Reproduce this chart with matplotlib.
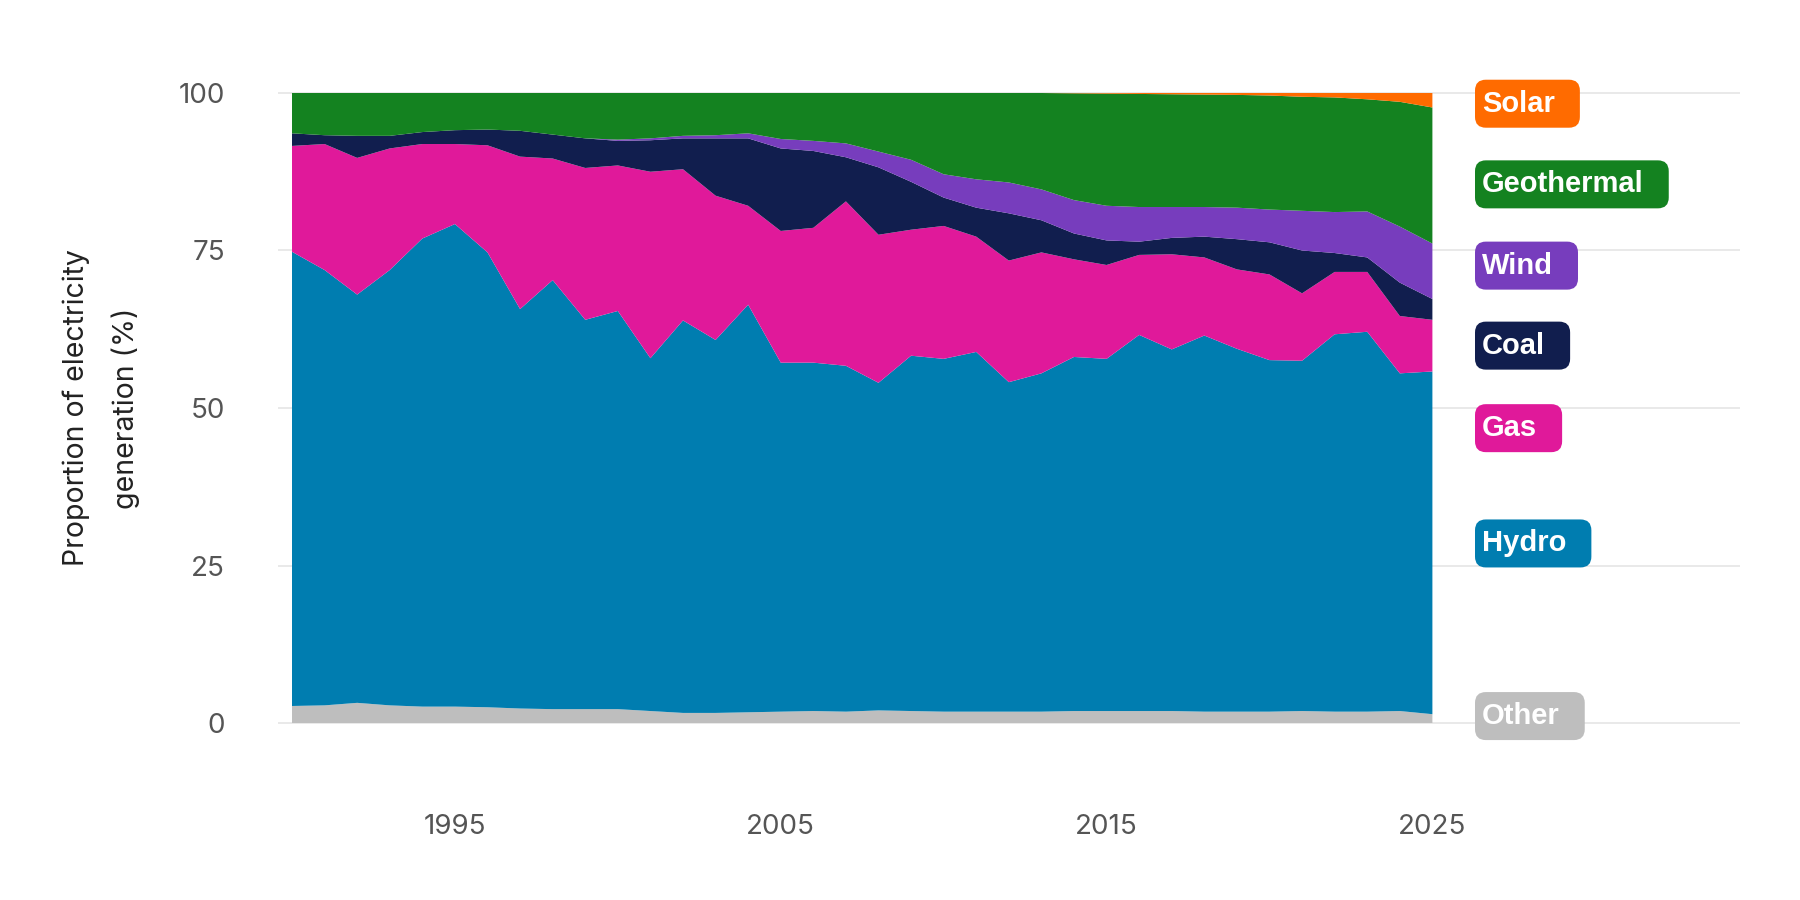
import matplotlib
matplotlib.use("Agg")
import matplotlib.pyplot as plt
from matplotlib.patches import FancyBboxPatch
import numpy as np

years = list(range(1990, 2026))

other = [2.7, 2.8, 3.2, 2.8, 2.6, 2.6, 2.5, 2.3, 2.2, 2.2, 2.2, 1.9, 1.6, 1.6, 1.7, 1.8, 1.9, 1.8,
         2.0, 1.9, 1.8, 1.8, 1.8, 1.8, 1.9, 1.9, 1.9, 1.9, 1.8, 1.8, 1.8, 1.9, 1.8, 1.8, 1.9, 1.4]
hydro = [72.1, 69.1, 64.8, 69.1, 74.3, 76.6, 72.2, 63.4, 68.1, 61.8, 63.2, 56.0, 62.3, 59.2, 64.7,
         55.4, 55.3, 54.9, 52.0, 56.4, 56.0, 57.1, 52.3, 53.7, 56.2, 55.9, 59.7, 57.4, 59.7, 57.6,
         55.8, 55.6, 59.9, 60.3, 53.6, 54.4]
gas = [16.8, 20.0, 21.7, 19.3, 15.0, 12.7, 17.0, 24.2, 19.3, 24.1, 23.1, 29.6, 24.0, 22.9, 15.7,
       20.9, 21.4, 26.1, 23.5, 20.0, 21.1, 18.3, 19.3, 19.2, 15.5, 14.9, 12.7, 15.1, 12.4, 12.6,
       13.6, 10.7, 9.9, 9.5, 9.1, 8.2]
coal = [2.0, 1.4, 3.5, 2.0, 1.9, 2.2, 2.5, 4.1, 3.8, 4.7, 3.9, 5.0, 4.9, 9.1, 10.7, 13.1, 12.2,
        7.0, 10.7, 7.6, 4.5, 4.6, 7.5, 5.1, 4.1, 3.9, 2.1, 2.6, 3.3, 4.8, 5.1, 6.8, 3.0, 2.3, 5.3, 3.3]
wind = [0, 0, 0, 0, 0, 0, 0, 0, 0, 0, 0.2, 0.3, 0.4, 0.5, 0.8, 1.5, 1.6, 2.2, 2.5, 3.5, 3.7, 4.5,
        4.9, 4.9, 5.3, 5.5, 5.5, 4.9, 4.7, 5.0, 5.2, 6.3, 6.5, 7.3, 8.9, 8.8]
geothermal = [6.4, 6.7, 6.8, 6.8, 6.2, 5.9, 5.8, 6.0, 6.6, 7.2, 7.4, 7.2, 6.8, 6.7, 6.4, 7.3, 7.6,
              8.0, 9.3, 10.6, 12.9, 13.7, 14.2, 15.3, 16.95, 17.8, 17.95, 17.9, 17.85, 17.9, 18.1,
              18.1, 18.2, 17.8, 19.8, 21.6]
solar = [0] * 24 + [0.05, 0.1, 0.15, 0.2, 0.25, 0.3, 0.4, 0.6, 0.7, 1.0, 1.4, 2.3]

series_names = ["Other", "Hydro", "Gas", "Coal", "Wind", "Geothermal", "Solar"]
series_values = [other, hydro, gas, coal, wind, geothermal, solar]
colors = ["#bebebe", "#007db0", "#e0199a", "#111e4e", "#773dbd", "#148220", "#ff6b00"]

y_ticks = [0, 25, 50, 75, 100]
x_ticks = [1995, 2005, 2015, 2025]

# label placement (style/layout)
label_y = {"Solar": 98.3, "Geothermal": 85.5, "Wind": 72.6, "Coal": 59.9,
           "Gas": 46.8, "Hydro": 28.5, "Other": 1.1}

W, H = 1800, 900
fig = plt.figure(figsize=(18, 9), dpi=100)
ax_left, ax_right = 278, 1740
ax_bottom_px, ax_top_px = 786, 61.5
ax = fig.add_axes([ax_left / W, 1 - ax_bottom_px / H,
                   (ax_right - ax_left) / W, (ax_bottom_px - ax_top_px) / H])

px_per_year = (1432.4 - 292) / 35
ax.set_xlim(1990 - (292 - ax_left) / px_per_year, 2025 + (ax_right - 1432.4) / px_per_year)
ax.set_ylim(-10, 105)

ax.stackplot(years, *series_values, colors=colors, linewidth=0, zorder=2)

for t in y_ticks:
    ax.axhline(t, color="#e5e5e5", lw=1.2, zorder=1)

for s in ax.spines.values():
    s.set_visible(False)

tick_font = "Inter"
ax.set_yticks(y_ticks)
ax.set_yticklabels([str(t) for t in y_ticks], fontsize=20, color="#555555", family=tick_font)
ax.set_xticks(x_ticks)
ax.set_xticklabels([str(t) for t in x_ticks], fontsize=20, color="#555555", family=tick_font)
ax.tick_params(axis="y", length=0, pad=38)
ax.tick_params(axis="x", length=0, pad=20)

fig.text(101 / W, 1 - 408 / H, "Proportion of electricity\ngeneration (%)", rotation=90,
         ha="center", va="center", multialignment="center", fontsize=20.5, color="#222222",
         family=tick_font, linespacing=1.95)

# direct labels
label_x = ax.get_xlim()[0] + (1482 - ax_left) / px_per_year
texts = []
for name, col in zip(series_names, colors):
    t = ax.text(label_x, label_y[name], name, ha="left", va="center", fontsize=21,
                fontweight="bold", color="white", family="Liberation Sans", zorder=5)
    texts.append((t, col))

fig.canvas.draw()
renderer = fig.canvas.get_renderer()
inv = fig.transFigure.inverted()
for t, col in texts:
    bb = t.get_window_extent(renderer)
    ycen = ax.transData.transform((0, t.get_position()[1]))[1]
    x0 = bb.x0 - 7
    w = bb.width + 32
    h = 48
    y0 = ycen - h / 2
    (fx0, fy0) = inv.transform((x0, y0))
    (fx1, fy1) = inv.transform((x0 + w, y0 + h))
    patch = FancyBboxPatch((fx0, fy0), fx1 - fx0, fy1 - fy0,
                           boxstyle="round,pad=0,rounding_size=0.006",
                           transform=fig.transFigure, facecolor=col, edgecolor="none",
                           zorder=4, mutation_aspect=2)
    fig.add_artist(patch)
    t.set_zorder(6)
    t.remove()
    fig.add_artist(t)

fig.savefig("out.png", dpi=100, facecolor="white")
